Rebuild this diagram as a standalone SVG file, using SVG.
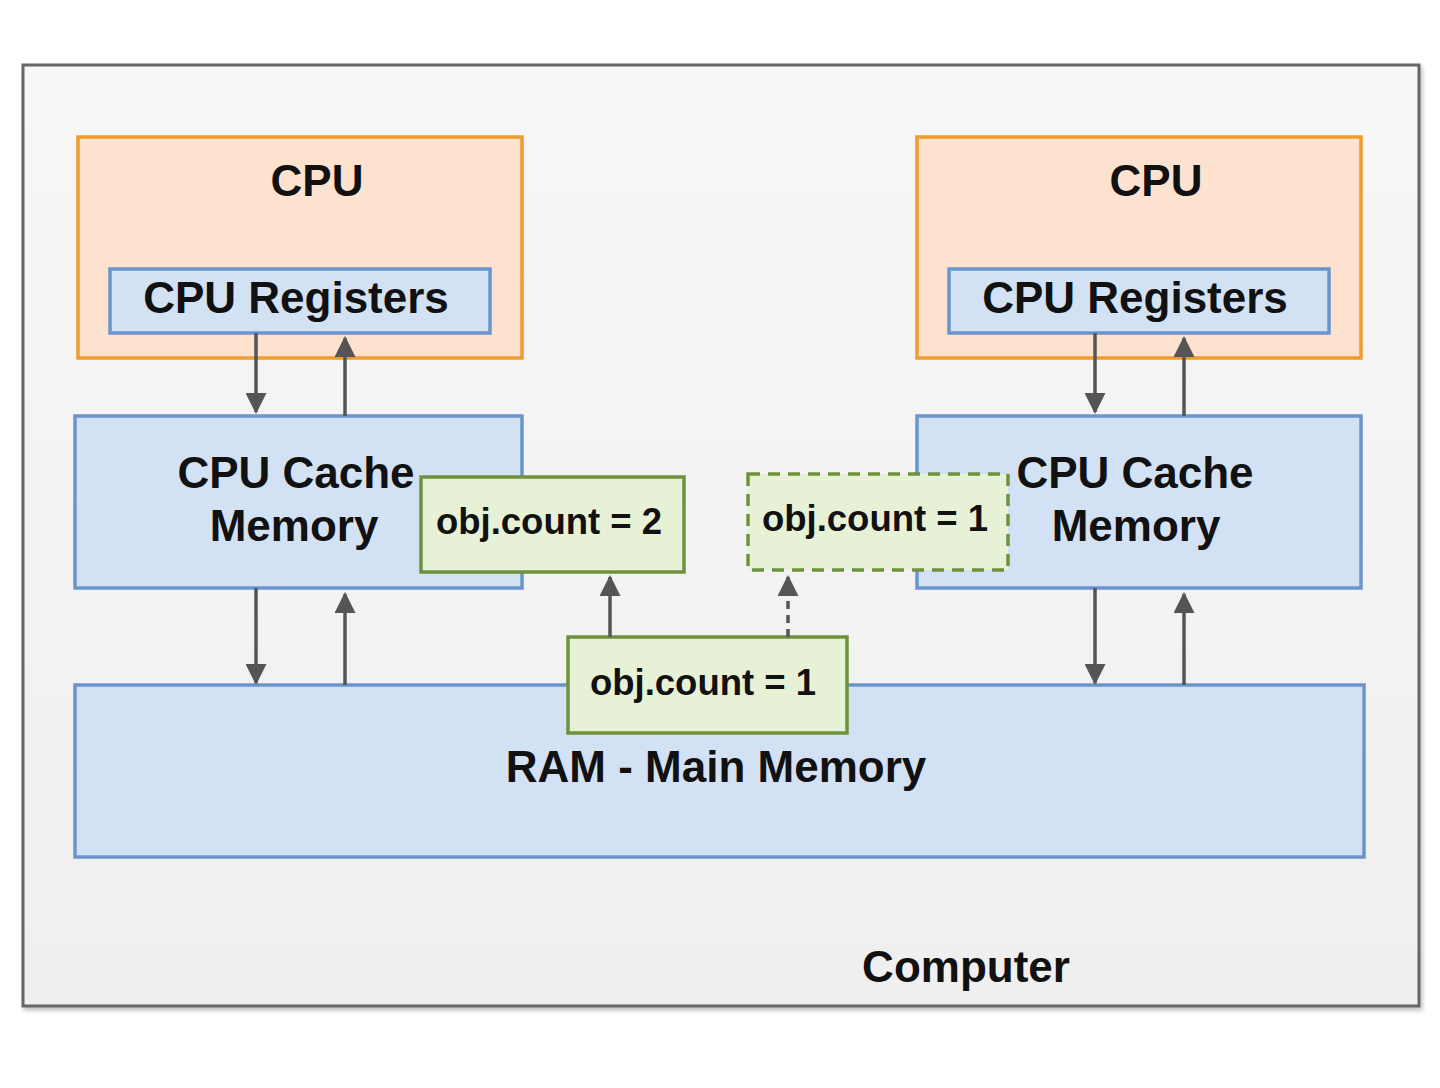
<svg xmlns="http://www.w3.org/2000/svg" width="1440" height="1088" viewBox="0 0 1440 1088">
<defs>
<style>
.t{font-family:"Liberation Sans",Arial,sans-serif;font-weight:bold;fill:#111;text-anchor:middle}
.big{font-size:44px}
.sm{font-size:36.5px}
.cpu{fill:#fde3cf;stroke:#f19a2e;stroke-width:3.5}
.blue{fill:#d3e1f4;stroke:#6c94cc;stroke-width:3.5}
.green{fill:#e7f1d6;stroke:#6e923c;stroke-width:3.5}
.dash{stroke-dasharray:12 8}
.ln{stroke:#555;stroke-width:3.5;fill:none}
</style>
<linearGradient id="bg" x1="0" y1="0" x2="0" y2="1">
<stop offset="0" stop-color="#f7f7f7"/>
<stop offset="1" stop-color="#efefef"/>
</linearGradient>
<filter id="sh" x="-5%" y="-5%" width="110%" height="110%">
<feDropShadow dx="2" dy="3" stdDeviation="2" flood-color="#000" flood-opacity="0.25"/>
</filter>
<marker id="ah" viewBox="0 0 10 10" refX="9" refY="5" markerWidth="6.5" markerHeight="6" markerUnits="strokeWidth" orient="auto">
<path d="M0,0 L10,5 L0,10 z" fill="#555"/>
</marker>
</defs>
<rect width="1440" height="1088" fill="#ffffff"/>
<g id="computer">
<rect x="23" y="65" width="1396" height="941" fill="url(#bg)" stroke="#666" stroke-width="3" filter="url(#sh)"/>
<text class="t big" x="966" y="982">Computer</text>
</g>
<g id="cpu-left">
<rect class="cpu" x="78" y="137" width="444" height="221"/>
<text class="t big" x="317" y="196">CPU</text>
</g>
<g id="registers-left">
<rect class="blue" x="110" y="269" width="380" height="64"/>
<text class="t big" x="296" y="313">CPU Registers</text>
</g>
<g id="cpu-right">
<rect class="cpu" x="917" y="137" width="444" height="221"/>
<text class="t big" x="1156" y="196">CPU</text>
</g>
<g id="registers-right">
<rect class="blue" x="949" y="269" width="380" height="64"/>
<text class="t big" x="1135" y="313">CPU Registers</text>
</g>
<g id="cache-left">
<rect class="blue" x="75" y="416" width="447" height="172"/>
<text class="t big" x="296" y="488">CPU Cache</text>
<text class="t big" x="294" y="541">Memory</text>
</g>
<g id="cache-right">
<rect class="blue" x="917" y="416" width="444" height="172"/>
<text class="t big" x="1135" y="488">CPU Cache</text>
<text class="t big" x="1136" y="541">Memory</text>
</g>
<g id="ram">
<rect class="blue" x="75" y="685" width="1289" height="172"/>
<text class="t big" x="716" y="782">RAM - Main Memory</text>
</g>
<g id="obj-left">
<rect class="green" x="421" y="477" width="263" height="95"/>
<text class="t sm" x="549" y="534">obj.count = 2</text>
</g>
<g id="obj-right">
<rect class="green dash" x="748" y="474" width="260" height="96"/>
<text class="t sm" x="875" y="531">obj.count = 1</text>
</g>
<g id="obj-ram">
<rect class="green" x="568" y="637" width="279" height="96"/>
<text class="t sm" x="703" y="695">obj.count = 1</text>
</g>
<g id="connectors">
<line class="ln" x1="256" y1="333" x2="256" y2="412" marker-end="url(#ah)"/>
<line class="ln" x1="345" y1="416" x2="345" y2="338" marker-end="url(#ah)"/>
<line class="ln" x1="1095" y1="333" x2="1095" y2="412" marker-end="url(#ah)"/>
<line class="ln" x1="1184" y1="416" x2="1184" y2="338" marker-end="url(#ah)"/>
<line class="ln" x1="256" y1="588" x2="256" y2="683" marker-end="url(#ah)"/>
<line class="ln" x1="345" y1="685" x2="345" y2="594" marker-end="url(#ah)"/>
<line class="ln" x1="1095" y1="588" x2="1095" y2="683" marker-end="url(#ah)"/>
<line class="ln" x1="1184" y1="685" x2="1184" y2="594" marker-end="url(#ah)"/>
<line class="ln" x1="610" y1="637" x2="610" y2="577" marker-end="url(#ah)"/>
<line class="ln" x1="788" y1="637" x2="788" y2="577" stroke-dasharray="8 6" marker-end="url(#ah)"/>
</g>
</svg>
